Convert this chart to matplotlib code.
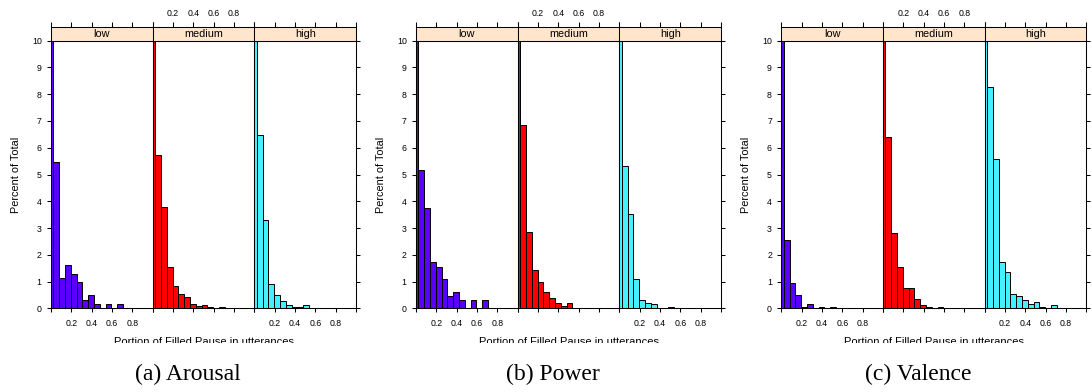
import numpy as np
import matplotlib
matplotlib.use('Agg')
import matplotlib.pyplot as plt
from matplotlib.patches import Rectangle

plt.rcParams['font.family'] = ['Liberation Sans', 'DejaVu Sans']

levels = ['low', 'medium', 'high']
level_colors = ['#5A00FF', '#FF0000', '#44F2FF']
captions = ['(a) Arousal', '(b) Power', '(c) Valence']

# histogram bins (the first one starts left of 0 and is cut by the panel)
bin_width = 0.057
bin_left = np.round(-0.033 + bin_width * np.arange(18), 3)

# percent of total per bin
arousal_low = [88.2, 5.48, 1.12, 1.60, 1.29, 0.97, 0.32, 0.48, 0.16, 0, 0.16, 0, 0.16]
arousal_medium = [86.7, 5.72, 3.78, 1.55, 0.84, 0.55, 0.42, 0.17, 0.08, 0.13, 0.05, 0, 0.05]
arousal_high = [88.2, 6.46, 3.31, 0.89, 0.50, 0.29, 0.12, 0.06, 0.06, 0.12]
power_low = [84.7, 5.17, 3.75, 1.72, 1.56, 1.09, 0.47, 0.62, 0.30, 0, 0.30, 0, 0.30]
power_medium = [86.4, 6.86, 2.85, 1.43, 1.00, 0.62, 0.37, 0.19, 0.10, 0.19]
power_high = [89.4, 5.31, 3.52, 1.08, 0.30, 0.20, 0.15, 0, 0, 0.04]
valence_low = [95.6, 2.57, 0.94, 0.51, 0.06, 0.15, 0, 0.06, 0, 0.06]
valence_medium = [87.2, 6.41, 2.83, 1.56, 0.74, 0.74, 0.35, 0.11, 0.05, 0, 0.05]
valence_high = [81.2, 8.26, 5.58, 1.72, 1.36, 0.53, 0.47, 0.30, 0.17, 0.22, 0.05, 0, 0.12]

percent = [
    [arousal_low, arousal_medium, arousal_high],
    [power_low, power_medium, power_high],
    [valence_low, valence_medium, valence_high],
]

x_ticks = [0, 0.2, 0.4, 0.6, 0.8, 1.0]
x_tick_labels = ['', '0.2', '0.4', '0.6', '0.8', '']
y_ticks = list(range(11))

W, H = 1092, 392
fig = plt.figure(figsize=(W / 100, H / 100), dpi=100)


def add_px_axes(x0, y0, x1, y1):
    return fig.add_axes([x0 / W, 1 - y1 / H, (x1 - x0) / W, (y1 - y0) / H])


plot_left = [51, 416, 781.3]
panel_w = 101.7
panel_top, panel_bottom = 40.7, 308.3
strip_top = 26.7
lw = 0.75

for p in range(3):
    for i in range(3):
        x0 = plot_left[p] + i * panel_w
        vals = percent[p][i]

        ax = add_px_axes(x0, panel_top, x0 + panel_w, panel_bottom)
        ax.bar(bin_left[:len(vals)], vals, width=bin_width, align='edge',
               color=level_colors[i], edgecolor='black', linewidth=0.7)
        ax.set_xlim(0, 1)
        ax.set_ylim(0, 10)
        ax.set_xticks(x_ticks)
        ax.set_xticklabels(x_tick_labels if i != 1 else [''] * 6)
        ax.set_yticks(y_ticks)
        ax.tick_params(axis='x', direction='out', length=3.2, width=lw,
                       labelsize=6.3, pad=4.5)
        ax.tick_params(axis='y', direction='out', length=3.2, width=lw,
                       labelsize=6.3, pad=3.5,
                       left=(i == 0), labelleft=(i == 0),
                       right=(i == 2), labelright=False)
        for s in ax.spines.values():
            s.set_linewidth(lw)

        # strip with the level name, ticks on top
        sx = add_px_axes(x0, strip_top, x0 + panel_w, panel_top)
        sx.set_facecolor('#FFE5CC')
        sx.set_xlim(0, 1)
        sx.set_ylim(0, 1)
        sx.set_yticks([])
        sx.xaxis.tick_top()
        sx.set_xticks(x_ticks)
        sx.set_xticklabels(x_tick_labels if i == 1 else [''] * 6)
        sx.tick_params(axis='x', direction='out', length=3.5, width=lw,
                       labelsize=6.3, pad=3)
        for s in sx.spines.values():
            s.set_linewidth(lw)
        sx.text(0.5, 0.45, levels[i], ha='center', va='center', fontsize=7.8)

    cx = plot_left[p] + 1.5 * panel_w
    fig.text((plot_left[p] - 35) / W, 1 - 175 / H, 'Percent of Total',
             rotation=90, ha='center', va='center', fontsize=7.8)
    fig.text(cx / W, 1 - 337 / H, 'Portion of Filled Pause in utterances',
             ha='center', va='top', fontsize=8)
    fig.text((plot_left[p] + 137) / W, 1 - 374.5 / H, captions[p],
             ha='center', va='center', fontsize=17,
             family=['Liberation Serif', 'DejaVu Serif'])

# the source image cuts the axis titles off at the bottom
fig.add_artist(Rectangle((0, 1 - 362 / H), 1, (362 - 342.8) / H,
                         transform=fig.transFigure, facecolor='white',
                         edgecolor='none', zorder=10))

fig.savefig('out.png', dpi=100)
